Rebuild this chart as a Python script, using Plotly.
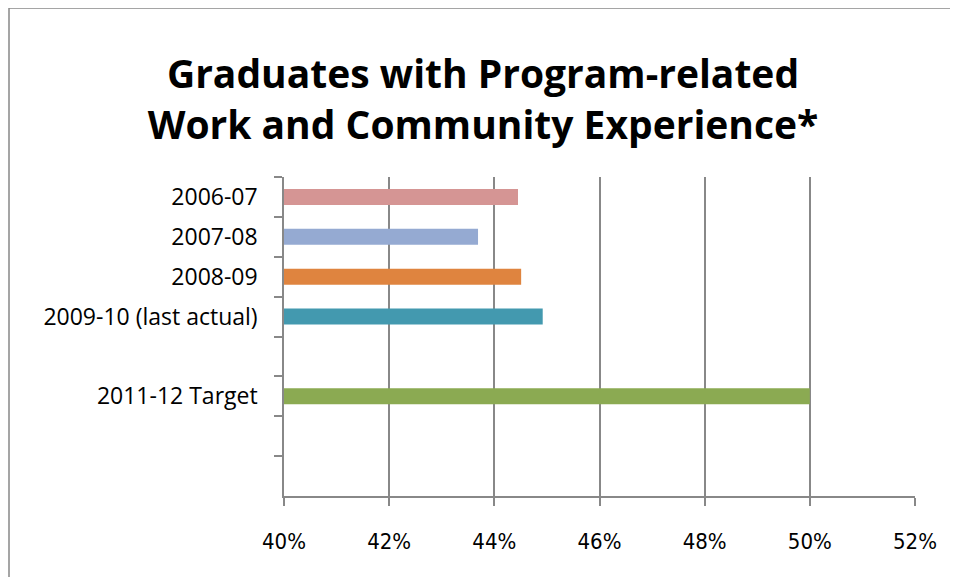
import plotly.graph_objects as go

categories = ["2006-07", "2007-08", "2008-09", "2009-10 (last actual)", " ", "2011-12 Target", "  ", "   "]
values = [0.4445, 0.4369, 0.4451, 0.4492, None, 0.50, None, None]
bar_colors = ["#D59594", "#95AAD2", "#DF843F", "#4399AF", "#FFFFFF", "#8BAA52", "#FFFFFF", "#FFFFFF"]
x_ticks = [0.40, 0.42, 0.44, 0.46, 0.48, 0.50, 0.52]
x_tick_labels = ["40%", "42%", "44%", "46%", "48%", "50%", "52%"]
baseline = 0.40

FONT = "Open Sans"
NARROW = "Liberation Sans Narrow, DejaVu Sans Condensed, Open Sans"
GRAY = "#888888"

fig = go.Figure(go.Bar(
    y=categories,
    x=[None if v is None else v - baseline for v in values],
    base=baseline,
    orientation="h", width=0.4,
    marker=dict(color=bar_colors, line=dict(width=0)),
    hoverinfo="skip",
))

# page body has an 8px default margin, so the figure is 950x569 placed at (8,8)
W, H = 950, 569
L, T, R, B = 276, 169, 43, 81
PW, PH = W - L - R, H - T - B

fig.update_layout(
    width=W, height=H,
    margin=dict(l=L, r=R, t=T, b=B),
    paper_bgcolor="white", plot_bgcolor="white",
    showlegend=False,
    title=dict(
        text="<b>Graduates with Program-related<br>Work and Community Experience*</b>",
        x=0.5, xref="container", xanchor="center",
        y=(H - 80) / H, yref="container", yanchor="middle",
        font=dict(family=FONT, size=39, color="black"),
    ),
    font=dict(family=FONT, color="black"),
)
fig.update_xaxes(
    range=[0.40, 0.52], tickvals=x_ticks, ticktext=x_tick_labels,
    showgrid=True, gridcolor=GRAY, gridwidth=1.5,
    showline=True, linecolor=GRAY, linewidth=1.5,
    ticks="outside", ticklen=8, tickcolor=GRAY, tickwidth=1.5,
    tickfont=dict(family=NARROW, size=22, color="black"),
    ticklabelstandoff=17, zeroline=False,
)
fig.update_yaxes(
    type="category", categoryorder="array", categoryarray=categories,
    autorange="reversed",
    tickson="boundaries",
    showgrid=False,
    showline=True, linecolor=GRAY, linewidth=1.5,
    ticks="outside", ticklen=8, tickcolor=GRAY, tickwidth=1.5,
    tickfont=dict(family=FONT, size=23, color="black"),
    ticklabelstandoff=20,
)
# outer chart border (left and top edges visible in the reference)
fig.add_shape(type="rect", xref="paper", yref="paper",
              x0=(1 - L) / PW, x1=(W + 40 - L) / PW,
              y0=-(B + 40) / PH, y1=1 + (T - 0) / PH,
              line=dict(color=GRAY, width=1.5), layer="below")

fig.write_html("out.html")
